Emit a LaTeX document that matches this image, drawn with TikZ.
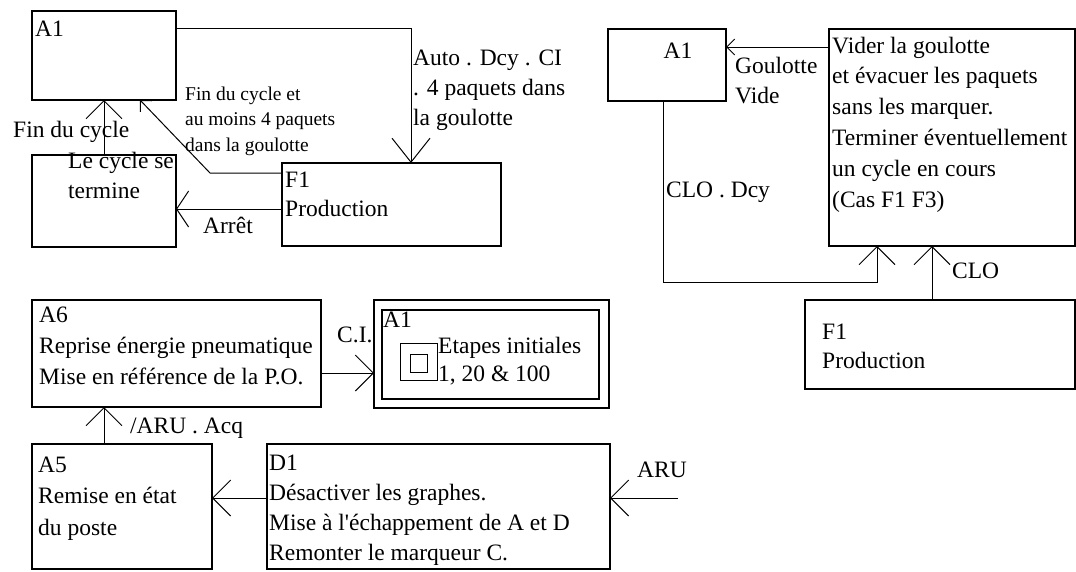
\documentclass[tikz,border=0pt]{standalone}
\usepackage{fontspec}
\setmainfont{Liberation Serif}
\usetikzlibrary{arrows.meta,fit}
\newcommand\fa{\fontsize{23.5}{30.5}\selectfont}
\newcommand\fb{\fontsize{19.5}{25.5}\selectfont}
\newcommand\tl[1]{\vtop{\halign{##\hfil\cr#1\crcr}}}
\begin{document}
\begin{tikzpicture}[x=1pt,y=-1pt,
  box/.style={draw,line width=1.2pt,inner sep=0pt,outer sep=0pt},
  txt/.style={anchor=base west,inner sep=0pt,font=\fa},
  smalltxt/.style={anchor=base west,inner sep=0pt,font=\fb},
  conn/.style={line width=1pt,-{Straight Barb[length=18pt,width=36pt,line width=1pt]}},
  connbig/.style={line width=1pt,-{Straight Barb[length=24pt,width=38pt,line width=1pt]}},
  connshort/.style={line width=1pt,-{Straight Barb[length=12pt,width=36pt,line width=1pt]}},
  conntiny/.style={line width=1pt,-{Straight Barb[length=8pt,width=16pt,line width=1pt]}}]
\path[use as bounding box] (0,0) rectangle (1076,571);

% ---------- boxes ----------
\node[box,fit={(32,11) (176,100)}] (A1a) {};
\node[box,fit={(32,155) (176,247)}] (T) {};
\node[box,fit={(282,163) (501,246)}] (F1a) {};
\node[box,fit={(608,29) (726,101)}] (A1b) {};
\node[box,fit={(829,29) (1075,246)}] (B) {};
\node[box,fit={(805,300) (1075,389)}] (F1b) {};
\node[box,fit={(32,300) (321,407)}] (A6) {};
\node[box,fit={(374,300) (609,408)}] (A1c) {};
\node[box,fit={(382,310) (599,399)}] (A1ci) {};
\node[box,line width=1pt,fit={(400,343) (437,380)}] (sq1) {};
\node[box,line width=1pt,fit={(410,354) (427,372)}] (sq2) {};
\node[box,fit={(32,444) (212,569)}] (A5) {};
\node[box,fit={(267,444) (610,569)}] (D1) {};

% ---------- texts ----------
\node[txt] (tA1a) at (35,36) {A1};
\node[txt,font={\fontsize{23.5}{30}\selectfont}] (tAuto) at (413,65) {\tl{Auto . Dcy . CI\cr . 4 paquets dans\cr la goulotte}};
\node[txt,font={\fontsize{23.5}{29}\selectfont}] (tF1a) at (285,187) {\tl{F1\cr Production}};
\node[smalltxt] (tFinet) at (185,100) {\tl{Fin du cycle et\cr au moins 4 paquets\cr dans la goulotte}};
\node[txt] (tFin) at (13,137) {Fin du cycle};
\node[txt,font={\fontsize{23.5}{30}\selectfont}] (tT) at (68,168) {\tl{Le cycle se\cr termine}};
\node[txt] (tArret) at (203,233) {Arrêt};
\node[anchor=base,inner sep=0pt,font=\fa] (tA1b) at (678,58) {A1};
\node[txt,font={\fontsize{23.5}{30.8}\selectfont}] (tB) at (832,53) {\tl{Vider la goulotte\cr et évacuer les paquets\cr sans les marquer.\cr Terminer éventuellement\cr un cycle en cours\cr (Cas F1 F3)}};
\node[txt,font={\fontsize{23.5}{30}\selectfont}] (tGoul) at (735,73) {\tl{Goulotte\cr Vide}};
\node[txt] (tCLOD) at (666,197) {CLO . Dcy};
\node[txt] (tCLO) at (952,278) {CLO};
\node[txt,font={\fontsize{23.5}{29}\selectfont}] (tF1b) at (822,339) {\tl{F1\cr Production}};
\node[txt,font={\fontsize{23.5}{31}\selectfont}] (tA6) at (39,322) {\tl{A6\cr Reprise énergie pneumatique\cr Mise en référence de la P.O.}};
\node[txt] (tCI) at (337,342) {C.I.};
\node[txt] (tA1c) at (383,327) {A1};
\node[txt,font={\fontsize{23.5}{28}\selectfont}] (tEt) at (438,353) {\tl{Etapes initiales\cr 1, 20 \& 100}};
\node[txt] (tAcq) at (130,433) {/ARU . Acq};
\node[txt,font={\fontsize{23.5}{31.5}\selectfont}] (tA5) at (38,472) {\tl{A5\cr Remise en état\cr du poste}};
\node[txt,font={\fontsize{23.5}{30}\selectfont}] (tD1) at (269,470) {\tl{D1\cr Désactiver les graphes.\cr Mise à l\textquotesingle échappement de A et D\cr Remonter le marqueur C.}};
\node[txt] (tARU) at (637,477) {ARU};

% ---------- helper coordinates ----------
\coordinate (y28) at (0,28);
\coordinate (x411) at (411,0);
\coordinate (x104) at (104,0);
\coordinate (y173) at (0,173);
\coordinate (b1) at (210,173);
\coordinate (x140) at (140,0);
\coordinate (y209) at (0,209);
\coordinate (y47) at (0,47);
\coordinate (x663) at (663,0);
\coordinate (b3) at (877,282);
\coordinate (x877) at (877,0);
\coordinate (x932) at (932,0);
\coordinate (y373) at (0,373);
\coordinate (y498) at (0,498);
\coordinate (aru) at (678,498);

% ---------- connectors ----------
\draw[connbig] (A1a.east |- y28) -| (F1a.north -| x411);
\draw[conn] (T.north -| x104) -- (A1a.south -| x104);
\draw[conntiny] (F1a.west |- y173) -- (b1) -- (A1a.south -| x140);
\draw[connshort] (F1a.west |- y209) -- (T.east |- y209);
\draw[conntiny] (B.west |- y47) -- (A1b.east |- y47);
\draw[conn] (A1b.south -| x663) |- (b3) -- (B.south -| x877);
\draw[conn] (F1b.north -| x932) -- (B.south -| x932);
\draw[conn] (A6.east |- y373) -- (A1c.west |- y373);
\draw[conn] (A5.north -| x104) -- (A6.south -| x104);
\draw[conn] (D1.west |- y498) -- (A5.east |- y498);
\draw[conn] (aru) -- (D1.east |- aru);
\end{tikzpicture}
\end{document}
